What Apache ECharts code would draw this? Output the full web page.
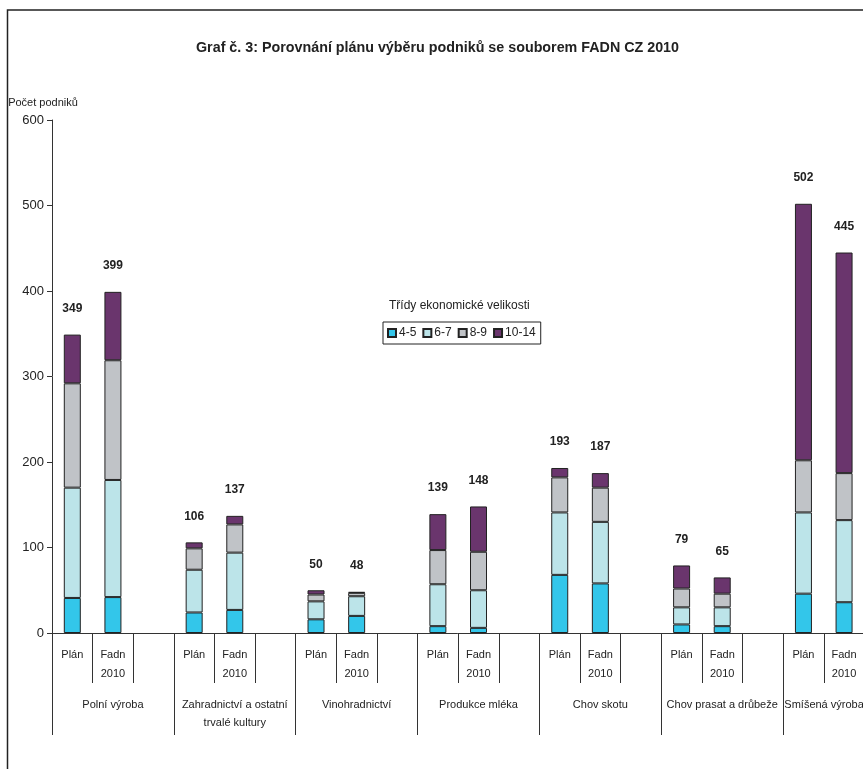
<!DOCTYPE html>
<html>
<head>
<meta charset="utf-8">
<script src="https://cdn.jsdelivr.net/npm/echarts@6/dist/echarts.min.js"></script>
<style>
html,body{margin:0;padding:0;background:#fff;}
#c{width:863px;height:769px;}
</style>
</head>
<body>
<div id="c"></div>
<script>
// ---- data ----
const groups = ['Polní výroba', 'Zahradnictví a ostatní\ntrvalé kultury', 'Vinohradnictví', 'Produkce mléka', 'Chov skotu', 'Chov prasat a drůbeže', 'Smíšená výroba'];
const subLabels = ['Plán', 'Fadn\n2010', ''];
const seriesNames = ['4-5', '6-7', '8-9', '10-14'];
// per slot: Plán, Fadn 2010, (gap) for each group
const cls45   = [41, 42, '-', 24, 27, '-', 16, 20, '-', 8, 6, '-', 68, 58, '-', 10, 8, '-', 46, 36, '-'];
const cls67   = [129, 137, '-', 50, 67, '-', 21, 23, '-', 49, 44, '-', 73, 72, '-', 20, 22, '-', 95, 96, '-'];
const cls89   = [122, 140, '-', 25, 33, '-', 8, 4, '-', 40, 45, '-', 41, 40, '-', 22, 16, '-', 61, 55, '-'];
const cls1014 = [57, 80, '-', 7, 10, '-', 5, 1, '-', 42, 53, '-', 11, 17, '-', 27, 19, '-', 300, 258, '-'];
const totals  = [349, 399, '', 106, 137, '', 50, 48, '', 139, 148, '', 193, 187, '', 79, 65, '', 502, 445, ''];
const yTicks = {min: 0, max: 600, interval: 100};

const colors = ['#33C6EA', '#BCE4E9', '#C0C3C7', '#6A356D'];
const FONT = "'Liberation Sans', Arial, sans-serif";

const slots = [];
groups.forEach(() => subLabels.forEach(s => slots.push(s)));
const groupData = groups.map((g, i) => i === groups.length - 1
  ? {value: g, textStyle: {padding: [0, 40, 0, 0]}} : g);

const chart = echarts.init(document.getElementById('c'), null, {renderer: 'canvas'});
const allData = [cls45, cls67, cls89, cls1014];
const series = allData.map((d, i) => ({
  name: seriesNames[i],
  type: 'bar',
  stack: 'total',
  barWidth: 17,
  data: d,
  itemStyle: {color: colors[i], borderColor: '#222', borderWidth: 1},
  label: i === 3 ? {
    show: true, position: 'top', distance: 20,
    fontFamily: FONT, fontWeight: 'bold', fontSize: 12, color: '#222',
    formatter: p => totals[p.dataIndex]
  } : {show: false},
  emphasis: {disabled: true},
  animation: false
}));

chart.setOption({
  animation: false,
  backgroundColor: '#fff',
  title: [{
    text: 'Graf č. 3: Porovnání plánu výběru podniků se souborem FADN CZ 2010',
    left: 191, top: 36,
    textStyle: {fontFamily: FONT, fontWeight: 'bold', fontSize: 14.3, color: '#222'}
  }, {
    text: 'Třídy ekonomické velikosti',
    left: 384, top: 295,
    textStyle: {fontFamily: FONT, fontWeight: 'normal', fontSize: 12, color: '#222'}
  }],
  legend: {
    left: 383, top: 322,
    orient: 'horizontal',
    data: seriesNames,
    icon: 'rect',
    itemWidth: 8, itemHeight: 8, itemGap: 6,
    padding: [5, 5, 5, 4],
    borderColor: '#222', borderWidth: 1,
    textStyle: {fontFamily: FONT, fontSize: 12, color: '#222', padding: [0, 0, 0, -2]},
    selectedMode: false
  },
  grid: {left: 52, top: 120, height: 513, width: 853, containLabel: false, outerBoundsMode: 'none'},
  xAxis: [{
    type: 'category',
    data: slots,
    position: 'bottom',
    axisLine: {show: true, lineStyle: {color: '#333', width: 1}},
    axisTick: {show: true, interval: 0, length: 50, lineStyle: {color: '#333'}},
    axisLabel: {interval: 0, margin: 12, fontFamily: FONT, fontSize: 11, lineHeight: 19, color: '#222'}
  }, {
    type: 'category',
    data: groupData,
    position: 'bottom',
    axisLine: {show: false},
    axisTick: {show: true, interval: 0, length: 102, lineStyle: {color: '#333'}},
    axisLabel: {interval: 0, margin: 63, fontFamily: FONT, fontSize: 11, lineHeight: 18, color: '#222'}
  }],
  yAxis: {
    type: 'value',
    min: yTicks.min, max: yTicks.max, interval: yTicks.interval,
    name: 'Počet podniků',
    nameLocation: 'end',
    nameGap: 12,
    nameTextStyle: {fontFamily: FONT, fontSize: 11, color: '#222', align: 'center', padding: [0, 18, 0, 0]},
    axisLine: {show: true, lineStyle: {color: '#333', width: 1}},
    axisTick: {show: true, length: 5, lineStyle: {color: '#333'}},
    axisLabel: {fontFamily: FONT, fontSize: 13, color: '#222', margin: 8},
    splitLine: {show: false}
  },
  graphic: [{
    type: 'rect',
    shape: {x: 7.5, y: 10, width: 1000, height: 900},
    style: {fill: null, stroke: '#222', lineWidth: 1.5},
    silent: true,
    z: 100
  }],
  series: series
});
</script>
</body>
</html>
